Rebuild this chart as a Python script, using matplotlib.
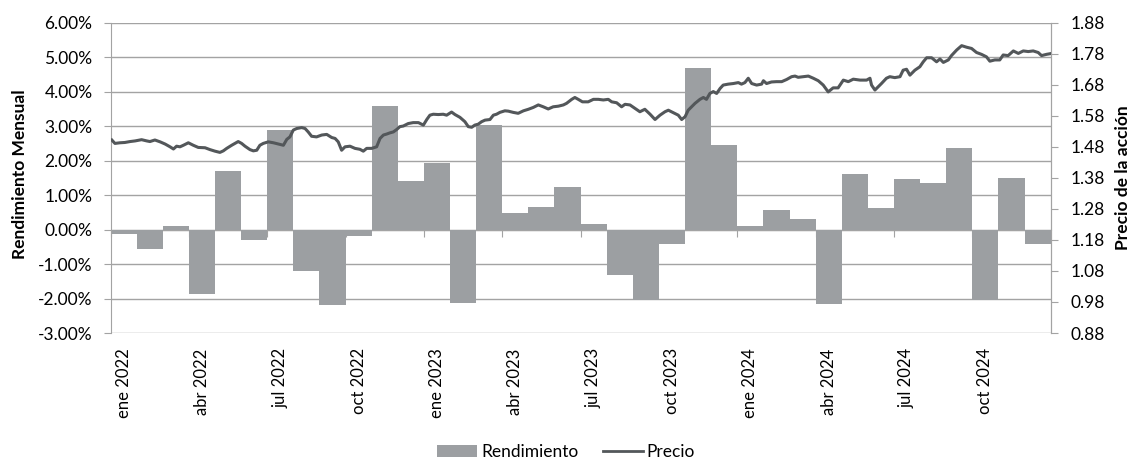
import numpy as np
import matplotlib
matplotlib.use('Agg')
import matplotlib.pyplot as plt
from matplotlib.patches import Patch
from matplotlib.lines import Line2D
from matplotlib.ticker import FuncFormatter, MultipleLocator

plt.rcParams['font.family'] = ['Lato', 'DejaVu Sans']

# datos ---------------------------------------------------------------
meses = ['ene 2022', 'feb 2022', 'mar 2022', 'abr 2022', 'may 2022', 'jun 2022',
         'jul 2022', 'ago 2022', 'sep 2022', 'oct 2022', 'nov 2022', 'dic 2022',
         'ene 2023', 'feb 2023', 'mar 2023', 'abr 2023', 'may 2023', 'jun 2023',
         'jul 2023', 'ago 2023', 'sep 2023', 'oct 2023', 'nov 2023', 'dic 2023',
         'ene 2024', 'feb 2024', 'mar 2024', 'abr 2024', 'may 2024', 'jun 2024',
         'jul 2024', 'ago 2024', 'sep 2024', 'oct 2024', 'nov 2024', 'dic 2024']

# rendimiento mensual en %
rendimiento = [-0.12, -0.57, 0.10, -1.86, 1.69, -0.30, 2.89, -1.21, -2.20, -0.20, 3.59, 1.42,
               1.93, -2.13, 3.04, 0.48, 0.66, 1.23, 0.17, -1.31, -2.05, -0.41, 4.70, 2.45,
               0.10, 0.58, 0.31, -2.15, 1.62, 0.62, 1.48, 1.34, 2.38, -2.05, 1.51, -0.43]

# precio de la accion (posicion en meses desde ene 2022)
precio_t = [0.05, 0.17, 0.36, 0.55, 0.75, 0.94, 1.19, 1.39, 1.51, 1.70, 1.90, 2.09, 2.28, 2.41,
            2.53, 2.66, 2.79, 2.98, 3.17, 3.36, 3.62, 3.81, 4.00, 4.19, 4.32, 4.45, 4.64, 4.89,
            5.02, 5.15, 5.34, 5.47, 5.60, 5.72, 5.85, 6.04, 6.24, 6.43, 6.62, 6.75, 6.87, 7.00,
            7.13, 7.32, 7.45, 7.57, 7.70, 7.89, 8.09, 8.28, 8.47, 8.60, 8.72, 8.85, 8.98, 9.17,
            9.36, 9.55, 9.68, 9.81, 10.00, 10.19, 10.32, 10.45, 10.57, 10.70, 10.83, 10.96,
            11.08, 11.21, 11.40, 11.59, 11.79, 11.98, 12.11, 12.23, 12.36, 12.55, 12.74, 12.87,
            13.06, 13.19, 13.38, 13.57, 13.70, 13.83, 13.95, 14.08, 14.21, 14.34, 14.53, 14.66,
            14.78, 14.91, 15.10, 15.23, 15.42, 15.61, 15.81, 16.00, 16.19, 16.38, 16.57, 16.76,
            16.95, 17.15, 17.34, 17.46, 17.66, 17.78, 17.91, 18.07, 18.29, 18.49, 18.68, 18.87,
            19.06, 19.19, 19.38, 19.57, 19.70, 19.89, 20.08, 20.27, 20.46, 20.66, 20.85, 21.04,
            21.23, 21.36, 21.55, 21.74, 21.87, 22.00, 22.12, 22.25, 22.38, 22.57, 22.70, 22.82,
            22.95, 23.08, 23.21, 23.34, 23.46, 23.65, 23.85, 24.04, 24.16, 24.29, 24.42, 24.55,
            24.74, 24.93, 25.00, 25.12, 25.31, 25.50, 25.70, 25.89, 26.08, 26.21, 26.33, 26.53,
            26.72, 26.91, 27.10, 27.29, 27.48, 27.67, 27.86, 28.06, 28.25, 28.44, 28.70, 28.95,
            29.08, 29.14, 29.27, 29.40, 29.52, 29.71, 29.84, 30.03, 30.23, 30.35, 30.48, 30.61,
            30.80, 30.99, 31.12, 31.25, 31.44, 31.63, 31.76, 31.89, 32.08, 32.20, 32.40, 32.59,
            32.78, 32.97, 33.16, 33.35, 33.54, 33.67, 33.86, 34.05, 34.18, 34.37, 34.57, 34.76,
            34.95, 35.14, 35.33, 35.52, 35.65, 35.84, 35.97]
precio = [1.502, 1.491, 1.493, 1.494, 1.497, 1.499, 1.503, 1.499, 1.497, 1.502, 1.496, 1.489, 1.480, 1.473,
          1.482, 1.480, 1.485, 1.493, 1.485, 1.478, 1.477, 1.471, 1.466, 1.462, 1.467, 1.475, 1.485, 1.497,
          1.491, 1.482, 1.471, 1.467, 1.469, 1.485, 1.491, 1.496, 1.493, 1.489, 1.485, 1.504, 1.512, 1.534,
          1.539, 1.542, 1.539, 1.528, 1.514, 1.512, 1.518, 1.520, 1.510, 1.507, 1.496, 1.469, 1.480, 1.482,
          1.475, 1.472, 1.466, 1.475, 1.475, 1.480, 1.507, 1.518, 1.521, 1.525, 1.528, 1.536,
          1.545, 1.547, 1.555, 1.558, 1.558, 1.550, 1.568, 1.582, 1.585, 1.584, 1.585, 1.582,
          1.592, 1.584, 1.575, 1.561, 1.545, 1.543, 1.550, 1.553, 1.561, 1.566, 1.568, 1.582,
          1.585, 1.591, 1.596, 1.595, 1.591, 1.588, 1.596, 1.601, 1.607, 1.615, 1.609, 1.602,
          1.609, 1.611, 1.615, 1.620, 1.633, 1.639, 1.633, 1.625, 1.625, 1.633, 1.633, 1.631,
          1.633, 1.625, 1.622, 1.609, 1.617, 1.615, 1.604, 1.593, 1.601, 1.585, 1.568, 1.582,
          1.593, 1.598, 1.590, 1.582, 1.568, 1.577, 1.598, 1.609, 1.620, 1.633, 1.639, 1.633,
          1.652, 1.658, 1.652, 1.668, 1.679, 1.682, 1.684, 1.687, 1.682, 1.687, 1.701, 1.684,
          1.679, 1.682, 1.693, 1.684, 1.689, 1.690, 1.690, 1.697, 1.706, 1.708, 1.704, 1.706,
          1.708, 1.701, 1.693, 1.679, 1.657, 1.670, 1.670, 1.695, 1.690, 1.698, 1.695, 1.695,
          1.701, 1.679, 1.663, 1.674, 1.684, 1.701, 1.706, 1.703, 1.706, 1.727, 1.730, 1.711,
          1.727, 1.738, 1.754, 1.767, 1.767, 1.754, 1.763, 1.752, 1.760, 1.774, 1.792, 1.806,
          1.801, 1.797, 1.784, 1.778, 1.770, 1.756, 1.760, 1.760, 1.776, 1.774, 1.789, 1.781,
          1.789, 1.787, 1.789, 1.784, 1.774, 1.778, 1.780]

color_barra = '#9c9fa2'
color_linea = '#53575a'
color_grid = '#a3a3a3'

# grafico -------------------------------------------------------------
fig = plt.figure(figsize=(11.32, 4.61), dpi=100)
ax = fig.add_axes([110.5 / 1132, 1 - 333 / 461, 940.2 / 1132, (333 - 22.7) / 461])

x = np.arange(len(meses)) + 0.5
ax.bar(x, np.array(rendimiento) / 100, width=1.0, color=color_barra, zorder=2)

ax.set_xlim(0, 36)
ax.set_ylim(-0.03, 0.06)
ax.yaxis.set_major_locator(MultipleLocator(0.01))
ax.yaxis.set_major_formatter(FuncFormatter(lambda v, p: '%.2f%%' % (v * 100)))
ax.grid(axis='y', color=color_grid, linewidth=1.0, zorder=0)
ax.set_axisbelow(True)

ax.set_xticks(x[::3])
ax.set_xticklabels(meses[::3], rotation=90, va='top', ha='center')
ax.tick_params(axis='x', length=0, pad=11, labelsize=12, colors='black')
ax.tick_params(axis='y', length=5, color=color_grid, labelsize=12.5, pad=8)

for s in ['top', 'bottom']:
    ax.spines[s].set_visible(False)
for s in ['left', 'right']:
    ax.spines[s].set_color(color_grid)

# eje horizontal en 0 con marcas trimestrales
sec = ax.secondary_xaxis(1 / 3)
sec.set_xticks(np.arange(0, 36, 3))
sec.set_xticklabels([])
sec.tick_params(axis='x', direction='out', length=5, color=color_grid)
sec.spines['bottom'].set_color(color_grid)

ax2 = ax.twinx()
ax2.plot(precio_t, precio, color=color_linea, linewidth=2.2, zorder=3)
ax2.set_ylim(0.88, 1.88)
ax2.set_yticks(np.arange(0.88, 1.881, 0.1))
ax2.yaxis.set_major_formatter(FuncFormatter(lambda v, p: '%.2f' % v))
ax2.tick_params(axis='y', length=5, color=color_grid, labelsize=12.5, pad=9)
for s in ['top', 'bottom', 'left']:
    ax2.spines[s].set_visible(False)
ax2.spines['right'].set_color(color_grid)

fig.text(20 / 1132, 1 - 174 / 461, 'Rendimiento Mensual', rotation=90,
         ha='center', va='center', fontsize=12.5, fontweight='bold')
fig.text(1123 / 1132, 1 - 178 / 461, 'Precio de la acción', rotation=90,
         ha='center', va='center', fontsize=12.5, fontweight='bold')

handles = [Patch(facecolor=color_barra, edgecolor='none'),
           Line2D([0], [0], color=color_linea, linewidth=2.0)]
fig.legend(handles, ['Rendimiento', 'Precio'], loc='center', bbox_to_anchor=(0.5, 1 - 452 / 461),
           ncol=2, frameon=False, fontsize=12.5, handlelength=2.3, handleheight=0.7,
           handletextpad=0.25, columnspacing=1.4)

fig.savefig('out.png', dpi=100)
